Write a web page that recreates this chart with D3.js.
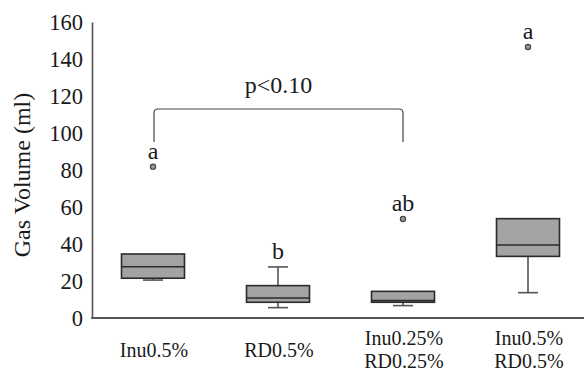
<!DOCTYPE html>
<html>
<head>
<meta charset="utf-8">
<script src="https://cdn.jsdelivr.net/npm/d3@7"></script>
<style>
  html, body { margin: 0; padding: 0; background: #fff; }
  svg { display: block; }
  text { font-family: "Liberation Serif", "Times New Roman", serif; fill: #1a1a1a; }
</style>
</head>
<body>
<svg id="chart" width="584" height="372"></svg>
<script>
// Treatment groups (second line of each label where present)
const categories = ["Inu0.5%", "RD0.5%", "Inu0.25%\nRD0.25%", "Inu0.5%\nRD0.5%"];
// Box-plot summary per group (ml)
const whiskerLow = [20.5, 5.6, 6.7, 13.7];
const q1         = [21.5, 8.5, 8.5, 33.3];
const median     = [27.7, 10.8, 9.4, 39.5];
const q3         = [34.6, 17.5, 14.4, 53.7];
const whiskerHigh = [34.6, 27.6, 14.4, 53.7];
const outliers   = [[81.8], [], [53.5], [146.5]];
// Significance letters
const letters    = ["a", "b", "ab", "a"];
const yTicks     = [0, 20, 40, 60, 80, 100, 120, 140, 160];
const bracketGroups = [0, 2];
const bracketLabel = "p<0.10";

const serif = '"Liberation Serif", "Times New Roman", serif';
const svg = d3.select("#chart");
const W = 584;

const x = d3.scaleBand().domain(d3.range(categories.length)).range([90.5, 590.5]).padding(0);
const y = d3.scaleLinear().domain([0, 160]).range([318, 22]);

const boxW = 63, capW = 20;
const cx = i => x(i) + x.bandwidth() / 2;

// Y axis
const yAxis = svg.append("g").attr("transform", "translate(92,0)")
  .call(d3.axisLeft(y).tickValues(yTicks).tickSize(0).tickPadding(9));
yAxis.attr("font-family", serif);
yAxis.select(".domain").attr("stroke", "#555").attr("stroke-width", 1.6);
yAxis.selectAll("text").style("font-family", serif)
  .attr("font-size", 22.5).attr("fill", "#1a1a1a").attr("dy", "0.35em");

// X axis line
svg.append("line").attr("x1", 91.2).attr("x2", W).attr("y1", y(0)).attr("y2", y(0))
  .attr("stroke", "#555").attr("stroke-width", 1.8);

// Y axis title
svg.append("text")
  .attr("transform", `translate(30,${(y(0) + y(160)) / 2 + 5}) rotate(-90)`)
  .attr("text-anchor", "middle").attr("font-size", 24).text("Gas Volume (ml)");

// Category labels
categories.forEach((c, i) => {
  const lines = c.split("\n");
  const t = svg.append("text").attr("text-anchor", "middle").attr("font-size", 20)
    .attr("x", cx(i) + 1).attr("y", lines.length === 1 ? 357 : 345);
  lines.forEach((l, k) => t.append("tspan").attr("x", cx(i) + 1).attr("dy", k === 0 ? 0 : 23).text(l));
});

const g = svg.append("g");
categories.forEach((c, i) => {
  const xc = cx(i);
  // Whiskers
  if (whiskerHigh[i] > q3[i]) {
    g.append("line").attr("x1", xc).attr("x2", xc).attr("y1", y(q3[i])).attr("y2", y(whiskerHigh[i]))
      .attr("stroke", "#555").attr("stroke-width", 1.6);
    g.append("line").attr("x1", xc - capW / 2).attr("x2", xc + capW / 2)
      .attr("y1", y(whiskerHigh[i])).attr("y2", y(whiskerHigh[i])).attr("stroke", "#555").attr("stroke-width", 1.6);
  }
  if (whiskerLow[i] < q1[i]) {
    g.append("line").attr("x1", xc).attr("x2", xc).attr("y1", y(q1[i])).attr("y2", y(whiskerLow[i]))
      .attr("stroke", "#555").attr("stroke-width", 1.6);
    g.append("line").attr("x1", xc - capW / 2).attr("x2", xc + capW / 2)
      .attr("y1", y(whiskerLow[i])).attr("y2", y(whiskerLow[i])).attr("stroke", "#555").attr("stroke-width", 1.6);
  }
  // Box
  g.append("rect").attr("x", xc - boxW / 2).attr("width", boxW)
    .attr("y", y(q3[i])).attr("height", y(q1[i]) - y(q3[i]))
    .attr("fill", "#a3a3a3").attr("stroke", "#2b2b2b").attr("stroke-width", 1.6);
  // Median
  g.append("line").attr("x1", xc - boxW / 2).attr("x2", xc + boxW / 2)
    .attr("y1", y(median[i])).attr("y2", y(median[i])).attr("stroke", "#2b2b2b").attr("stroke-width", 1.6);
  // Outliers
  outliers[i].forEach(v => {
    g.append("circle").attr("cx", xc).attr("cy", y(v)).attr("r", 2.6)
      .attr("fill", "#9a9a9a").attr("stroke", "#444").attr("stroke-width", 1.2);
  });
  // Letter above the highest point of the group
  const top = d3.max([whiskerHigh[i], q3[i], ...outliers[i]]);
  svg.append("text").attr("text-anchor", "middle").attr("font-size", 24)
    .attr("x", xc).attr("y", y(top) - 8).text(letters[i]);
});

// Comparison bracket
const bx1 = cx(bracketGroups[0]) + 1, bx2 = cx(bracketGroups[1]);
const bTop = 109, bBot = 142, r = 4;
svg.append("path")
  .attr("d", `M${bx1},${bBot} L${bx1},${bTop + r} Q${bx1},${bTop} ${bx1 + r},${bTop} L${bx2 - r},${bTop} Q${bx2},${bTop} ${bx2},${bTop + r} L${bx2},${bBot}`)
  .attr("fill", "none").attr("stroke", "#444").attr("stroke-width", 1.2);
svg.append("text").attr("text-anchor", "middle").attr("font-size", 24)
  .attr("x", (bx1 + bx2) / 2).attr("y", 93).text(bracketLabel);
</script>
</body>
</html>
